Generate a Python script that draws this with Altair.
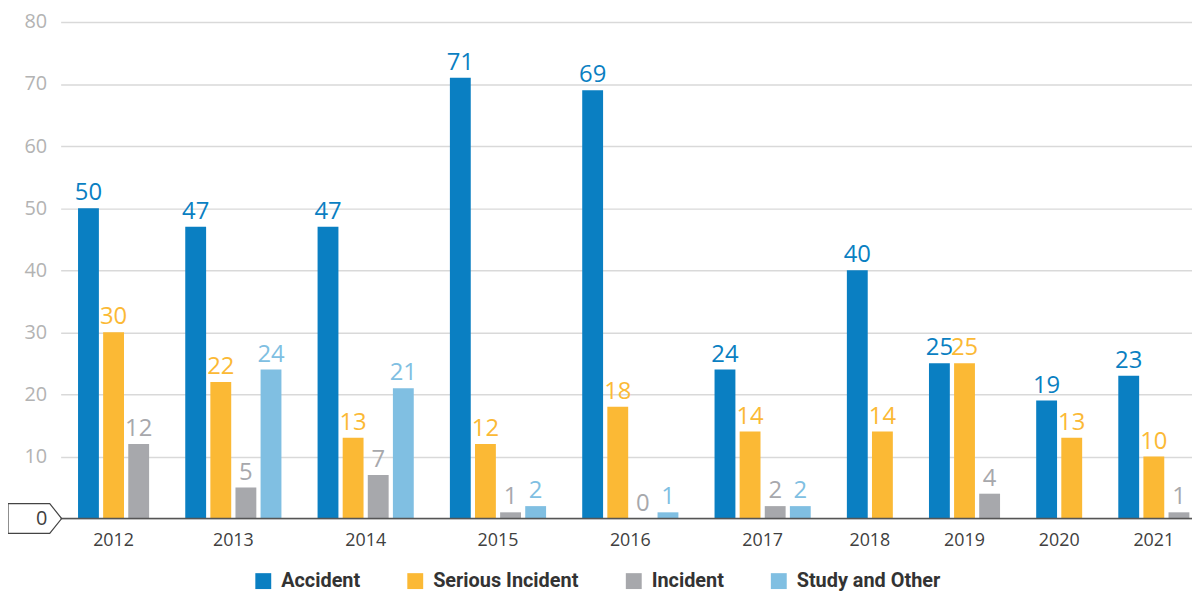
import altair as alt
import pandas as pd

years = ["2012", "2013", "2014", "2015", "2016", "2017", "2018", "2019", "2020", "2021"]
series_names = ["Accident", "Serious Incident", "Incident", "Study and Other"]
accident = [50, 47, 47, 71, 69, 24, 40, 25, 19, 23]
serious = [30, 22, 13, 12, 18, 14, 14, 25, 13, 10]
incident = [12, 5, 7, 1, 0, 2, None, 4, None, 1]
study = [None, 24, 21, 2, 1, 2, None, None, None, None]
colors = ["#0a7fc2", "#fbb935", "#a7a8ac", "#80bfe2"]
y_ticks = [0, 10, 20, 30, 40, 50, 60, 70, 80]

rows = []
for yi, yr in enumerate(years):
    for si, vals in enumerate([accident, serious, incident, study]):
        v = vals[yi]
        if v is not None:
            rows.append({"year": yr, "yi": yi, "si": si, "series": series_names[si], "value": v})
df = pd.DataFrame(rows)

GROUP_GAP = 1.27

base = (
    alt.Chart(df)
    .transform_window(rn="row_number()", sort=[alt.SortField("yi"), alt.SortField("si")])
    .transform_calculate(pos=f"datum.rn - 1 + datum.yi * {GROUP_GAP}")
)

xscale = alt.Scale(domain=[-1.108, 43.95], nice=False, zero=False, padding=0)
yscale = alt.Scale(domain=[0, 80], nice=False)

legend = alt.Legend(
    orient="none", legendX=194, legendY=553, direction="horizontal", columns=4,
    title=None, symbolType="square", symbolSize=256, symbolStrokeWidth=0,
    symbolOpacity=1, labelFont="Roboto", labelFontWeight="bold",
    labelFontSize=20, labelColor="#333333", labelOffset=8, columnPadding=45,
    padding=0, labelLimit=300,
)
color = alt.Color("series:N", scale=alt.Scale(domain=series_names, range=colors), legend=legend)

bars = base.mark_bar(size=21).encode(
    x=alt.X("pos:Q", scale=xscale, axis=None),
    y=alt.Y(
        "value:Q", scale=yscale,
        axis=alt.Axis(
            values=y_ticks, title=None, domain=False, ticks=False, tickSize=0,
            labelPadding=14, labelFont="Open Sans", labelFontSize=20,
            labelColor={"condition": {"test": "datum.value === 0", "value": "#404040"}, "value": "#b3b3b3"},
            grid=True, gridColor="#d9d9d9", gridWidth=1.5,
        ),
    ),
    color=color,
)

labels = base.mark_text(baseline="alphabetic", dy=-8, font="Open Sans", fontSize=24).encode(
    x=alt.X("pos:Q", scale=xscale),
    y=alt.Y("value:Q", scale=yscale),
    text="value:Q",
    color=color,
)

year_labels = (
    base.transform_aggregate(center="mean(pos)", groupby=["year"])
    .mark_text(baseline="alphabetic", font="Open Sans", fontSize=18, color="#404040")
    .encode(x=alt.X("center:Q", scale=xscale), y=alt.value(528), text="year:N")
)

zero_df = pd.DataFrame({"value": [0]})
zero_rule = alt.Chart(zero_df).mark_rule(color="#555555", strokeWidth=1.5).encode(
    y=alt.Y("value:Q", scale=yscale)
)
box_path = "M -1 -0.556 L 0.556 -0.556 L 1 0 L 0.556 0.556 L -1 0.556 Z"
zero_box = alt.Chart(zero_df).mark_point(
    shape=box_path, size=2916, filled=False, stroke="#444444", strokeWidth=1.2, opacity=1
).encode(y=alt.Y("value:Q", scale=yscale), x=alt.value(-26))

chart = (
    alt.layer(bars, zero_rule, zero_box, labels, year_labels)
    .properties(
        width=1139, height=500,
        autosize=alt.AutoSizeParams(type="none"),
        padding={"left": 53, "top": 12, "right": 0, "bottom": 74},
    )
    .configure_view(stroke=None)
)

chart.save("out.html", embed_options={"renderer": "svg", "actions": False})
